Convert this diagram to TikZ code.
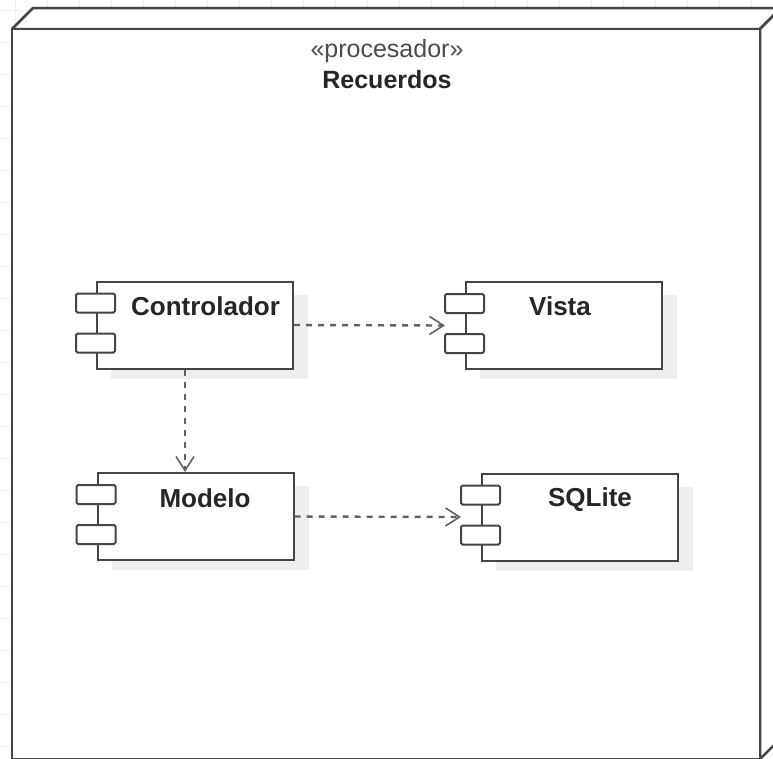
\documentclass[tikz,border=0pt]{standalone}
\usepackage{fontspec}
\setmainfont{Liberation Sans}
\usetikzlibrary{arrows.meta}

\definecolor{gridline}{HTML}{EFEFEF}
\definecolor{edge}{HTML}{454545}
\definecolor{compshadow}{HTML}{EEEEEE}

\tikzset{
  comp/.style={draw=edge, line width=2pt, fill=white, minimum width=196pt,
    minimum height=87pt, inner sep=0pt},
  port/.style={draw=edge, line width=2pt, fill=white, rounded corners=1.5pt},
  complabel/.style={font=\fontsize{26}{30}\selectfont\bfseries, text=black!85, anchor=base},
  dep/.style={draw=edge!85, line width=2.4pt, dash pattern=on 6pt off 6pt,
    -{Straight Barb[length=14pt, width=18pt, line width=1.6pt]}},
}

% draws a UML component box with its two port tabs and a soft shadow
\newcommand{\umlcomp}[3]{% name, centre x, centre y
  \fill[compshadow] (#2-98+14,#3-43.5+13) rectangle (#2+98+15,#3+43.5+10);
  \node[comp] (#1) at (#2,#3) {};
  \draw[port] ([xshift=-20pt,yshift=-13pt]#1.north west) rectangle ([xshift=19pt,yshift=-32pt]#1.north west);
  \draw[port] ([xshift=-20pt,yshift=-53pt]#1.north west) rectangle ([xshift=19pt,yshift=-72pt]#1.north west);
  \coordinate (#1-in) at ([xshift=-20pt]#1.west);
}

\begin{document}
\begin{tikzpicture}[x=1pt, y=-1pt]
  \useasboundingbox (0,0) rectangle (773,758);
  \begin{scope}
    \clip (0,0) rectangle (773,758);
    \fill[white] (0,0) rectangle (773,758);
    % background grid
    \foreach \gx in {15,47,...,780} \draw[gridline, line width=1pt] (\gx,0) -- (\gx,758);
    \foreach \gy in {10,42,...,760} \draw[gridline, line width=1pt] (0,\gy) -- (773,\gy);

    % processor node drawn as a box with depth
    \coordinate (nfl) at (12,29);
    \coordinate (nfr) at (760,29);
    \coordinate (nbl) at (33,8);
    \coordinate (nbr) at (781,8);
    \coordinate (nrb) at (760,759);
    \coordinate (nrbb) at (781,738);
    \filldraw[fill=white, draw=edge, line width=2.5pt, line join=round]
      (nfl) -- (nbl) -- (nbr) -- (nfr) -- cycle;
    \filldraw[fill=white, draw=edge, line width=2.5pt, line join=round]
      (nfr) -- (nbr) -- (nrbb) -- (nrb) -- cycle;
    \filldraw[fill=white, draw=edge, line width=2.5pt] (nfl) rectangle (nrb);
    \node[font=\fontsize{25}{28}\selectfont, text=black!70, anchor=base] (stereo) at (387,57) {«procesador»};
    \node[font=\fontsize{25}{28}\selectfont\bfseries, text=black!85, anchor=base] (title) at (387,88) {Recuerdos};
  \end{scope}

  % components
  \umlcomp{ctrl}{195}{325}
  \umlcomp{vista}{564}{325.5}
  \umlcomp{modelo}{195.5}{516.5}
  \umlcomp{sqlite}{580}{517}

  \node[complabel] (ctrlt) at (205.5,315) {Controlador};
  \node[complabel] (vistat) at (560,315) {Vista};
  \node[complabel] (modelot) at (205,507) {Modelo};
  \node[complabel] (sqlitet) at (590,506) {SQLite};

  % dependencies
  \draw[dep] (ctrl.east) -- (vista-in);
  \draw[dep] (modelo.east) -- (sqlite-in);
  \draw[dep] ([xshift=-10pt]ctrl.south) -- ([xshift=-10.5pt]modelo.north);
\end{tikzpicture}
\end{document}
